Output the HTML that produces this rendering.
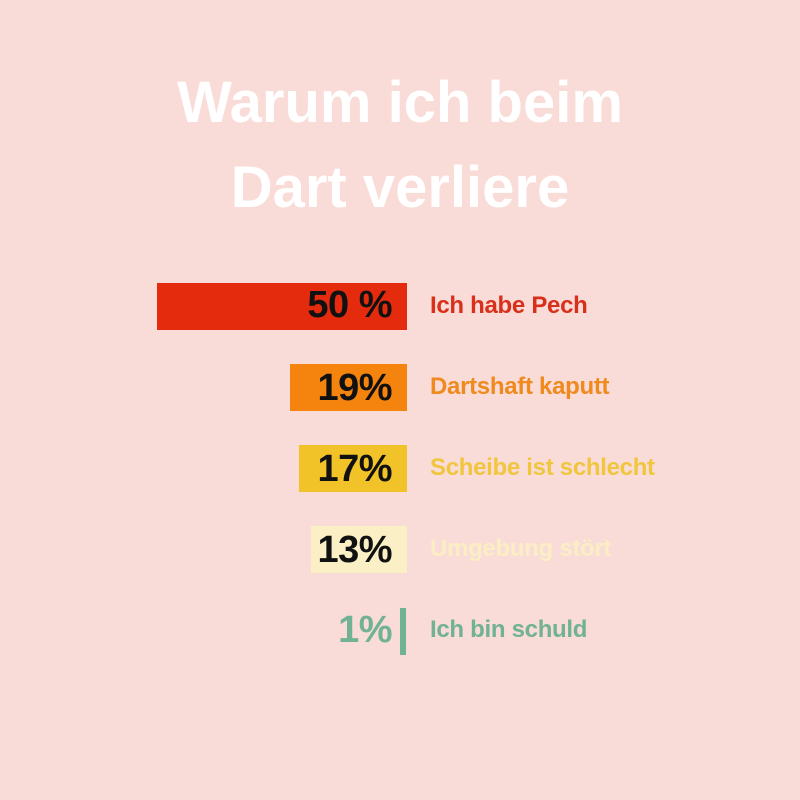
<!DOCTYPE html>
<html><head><meta charset="utf-8"><style>
body{margin:0;width:800px;height:800px;background:#f9dbd7;position:relative;overflow:hidden;font-family:"Liberation Sans",sans-serif;}
.t{position:absolute;left:0;width:800px;text-align:center;color:#fff;font-weight:bold;font-size:58px;letter-spacing:0px}
.b{position:absolute;right:393px;height:47px}
.n{position:absolute;right:408px;font-weight:bold;font-size:38px;color:#111;text-align:right;letter-spacing:-0.5px;line-height:47px}
.l{position:absolute;left:430px;font-weight:bold;font-size:24px;line-height:47px;letter-spacing:-0.3px}
</style></head><body>
<div class="t" style="top:69px">Warum ich beim</div>
<div class="t" style="top:154px">Dart verliere</div>

<div class="b" style="top:283px;width:250px;background:#e52b0e"></div>
<div class="n" style="top:282px">50 %</div>
<div class="l" style="top:282px;color:#d9301b">Ich habe Pech</div>

<div class="b" style="top:364px;width:117px;background:#f5840f"></div>
<div class="n" style="top:365px">19%</div>
<div class="l" style="top:363px;color:#ef8a1f">Dartshaft kaputt</div>

<div class="b" style="top:445px;width:108px;background:#f1c328"></div>
<div class="n" style="top:446px">17%</div>
<div class="l" style="top:444px;color:#f0c63e">Scheibe ist schlecht</div>

<div class="b" style="top:526px;width:96px;background:#fbefc5"></div>
<div class="n" style="top:527px">13%</div>
<div class="l" style="top:525px;color:#fbeec4">Umgebung stört</div>

<div class="b" style="top:608px;width:6px;right:394px;background:#72b294"></div>
<div class="n" style="top:607px;color:#72b294">1%</div>
<div class="l" style="top:606px;color:#72b294">Ich bin schuld</div>
</body></html>
